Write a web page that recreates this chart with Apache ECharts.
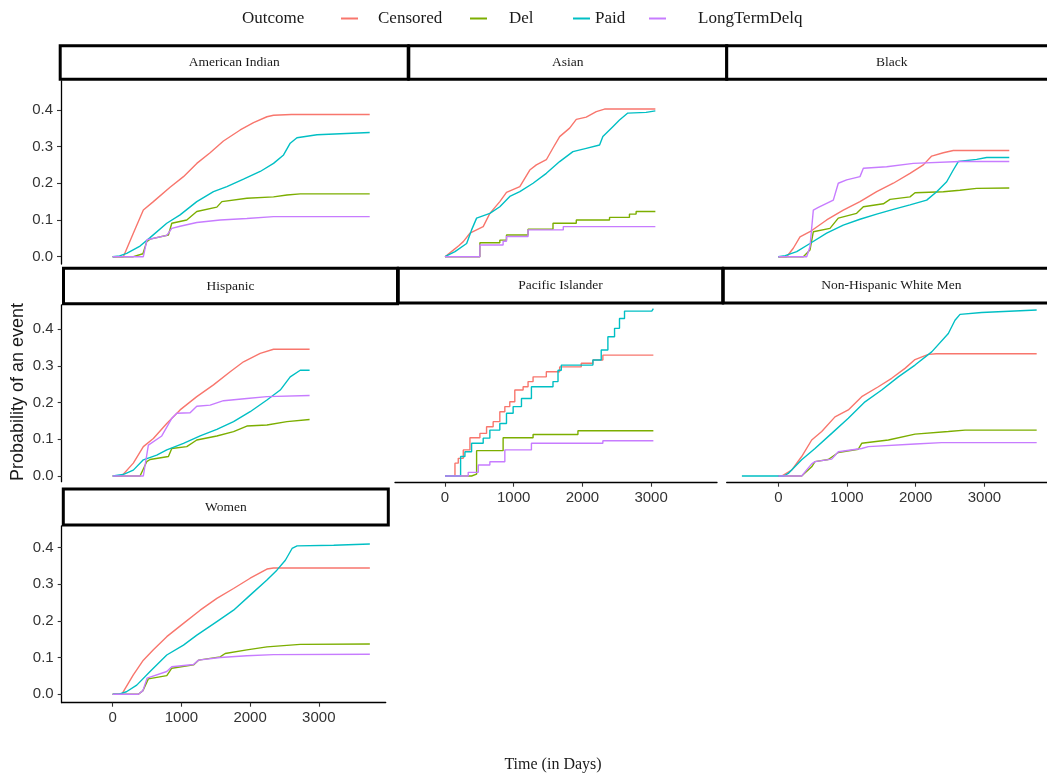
<!DOCTYPE html>
<html>
<head>
<meta charset="utf-8">
<script src="https://cdn.jsdelivr.net/npm/echarts@6/dist/echarts.min.js"></script>
<style>html,body{margin:0;padding:0;background:#fff;}#c{width:1047px;height:777px;}</style>
</head>
<body>
<div id="c"></div>
<script>
// ---------- DATA ----------
const outcomes = ['Censored', 'Del', 'Paid', 'LongTermDelq'];
const panelNames = ['American Indian', 'Asian', 'Black', 'Hispanic', 'Pacific Islander', 'Non-Hispanic White Men', 'Women'];
const xTicks = [0, 1000, 2000, 3000];
const yTicks = [0, 0.1, 0.2, 0.3, 0.4];

// American Indian
const aiCensored = [[0,0],[155,0],[300,0.064],[446,0.127],[592,0.150],[835,0.189],[1030,0.218],[1224,0.254],[1418,0.283],[1612,0.315],[1856,0.345],[2050,0.365],[2245,0.381],[2341,0.385],[2600,0.387],[3741,0.387]];
const aiDel = [[0,0],[300,0],[440,0.008],[495,0.041],[544,0.048],[811,0.059],[860,0.091],[1078,0.100],[1224,0.123],[1516,0.135],[1589,0.150],[1953,0.159],[2341,0.163],[2536,0.168],[2730,0.171],[3741,0.171]];
const aiPaid = [[0,0],[100,0.002],[204,0.009],[398,0.029],[544,0.052],[787,0.091],[981,0.114],[1224,0.150],[1467,0.177],[1662,0.191],[1904,0.211],[2147,0.232],[2341,0.254],[2487,0.277],[2584,0.309],[2682,0.324],[2974,0.332],[3741,0.338]];
const aiLTD = [[0,0],[446,0],[480,0.030],[500,0.046],[787,0.058],[860,0.077],[981,0.083],[1224,0.093],[1564,0.100],[1953,0.104],[2341,0.109],[3741,0.109]];

// Asian
const asianCensored = [[0,0],[24,0],[121,0.018],[200,0.030],[266,0.041],[363,0.064],[556,0.082],[653,0.118],[798,0.150],[895,0.175],[1089,0.191],[1234,0.236],[1330,0.250],[1475,0.264],[1572,0.296],[1669,0.327],[1814,0.350],[1911,0.374],[2056,0.380],[2202,0.395],[2322,0.402],[3062,0.402]];
const asianDel = [[0,0],[508,0.038],[798,0.045],[895,0.059],[1209,0.075],[1572,0.091],[1911,0.100],[2395,0.107],[2685,0.116],[2782,0.123],[3062,0.123]];
const asianPaid = [[0,0],[24,0],[145,0.014],[315,0.036],[387,0.073],[460,0.105],[653,0.118],[798,0.136],[943,0.164],[1089,0.177],[1282,0.200],[1475,0.227],[1669,0.259],[1862,0.286],[2056,0.295],[2250,0.304],[2298,0.327],[2443,0.354],[2540,0.372],[2661,0.391],[2927,0.393],[3062,0.397]];
const asianLTD = [[0,0],[508,0.032],[846,0.042],[895,0.055],[1209,0.073],[1722,0.082],[3062,0.082]];

// Black
const blackCensored = [[0,0],[122,0],[218,0.023],[316,0.054],[461,0.068],[704,0.100],[946,0.127],[1189,0.150],[1432,0.177],[1674,0.200],[1917,0.227],[2111,0.250],[2233,0.274],[2402,0.283],[2547,0.289],[3362,0.289]];
const blackDel = [[0,0],[364,0],[461,0.018],[510,0.068],[752,0.077],[873,0.105],[1140,0.118],[1238,0.136],[1529,0.144],[1626,0.156],[1917,0.163],[1990,0.174],[2402,0.177],[2644,0.181],[2887,0.186],[3362,0.187]];
const blackPaid = [[0,0],[100,0.003],[268,0.014],[461,0.036],[704,0.064],[946,0.086],[1189,0.102],[1432,0.116],[1674,0.129],[1917,0.141],[2160,0.154],[2306,0.177],[2451,0.204],[2547,0.236],[2620,0.259],[2887,0.265],[3033,0.270],[3362,0.270]];
const blackLTD = [[0,0],[413,0],[461,0.027],[510,0.127],[583,0.134],[801,0.154],[873,0.200],[995,0.209],[1189,0.218],[1238,0.241],[1577,0.245],[1965,0.254],[2644,0.259],[3362,0.259]];

// Hispanic
const hispCensored = [[0,0],[131,0],[300,0.035],[446,0.080],[592,0.102],[787,0.143],[981,0.180],[1224,0.216],[1467,0.248],[1710,0.284],[1904,0.311],[2147,0.334],[2341,0.345],[2866,0.345]];
const hispDel = [[0,0],[398,0],[495,0.039],[544,0.045],[811,0.053],[860,0.075],[1078,0.080],[1224,0.098],[1516,0.109],[1759,0.121],[1953,0.136],[2245,0.139],[2536,0.148],[2866,0.154]];
const hispPaid = [[0,0],[150,0.004],[300,0.016],[446,0.044],[641,0.057],[787,0.071],[1030,0.089],[1273,0.109],[1516,0.127],[1759,0.148],[2001,0.175],[2245,0.207],[2439,0.234],[2584,0.270],[2730,0.288],[2866,0.288]];
const hispLTD = [[0,0],[446,0],[519,0.084],[714,0.109],[860,0.157],[933,0.171],[1127,0.172],[1224,0.190],[1418,0.193],[1613,0.205],[1953,0.211],[2245,0.216],[2866,0.219]];

// Pacific Islander
const piCensored = [[0,0],[145,0.035],[193,0.048],[266,0.071],[363,0.104],[508,0.116],[605,0.134],[701,0.148],[798,0.175],[871,0.189],[943,0.202],[1016,0.234],[1137,0.243],[1209,0.257],[1282,0.270],[1475,0.284],[1669,0.297],[1983,0.307],[2153,0.316],[2298,0.329],[3033,0.329]];
const piDel = [[0,0],[387,0.005],[460,0.069],[846,0.104],[1282,0.113],[1935,0.123],[3033,0.123]];
const piPaid = [[0,0],[227,0.053],[290,0.066],[387,0.089],[556,0.103],[653,0.125],[798,0.143],[895,0.171],[992,0.189],[1113,0.211],[1258,0.243],[1572,0.257],[1645,0.288],[1693,0.302],[2153,0.316],[2274,0.343],[2371,0.379],[2468,0.402],[2540,0.429],[2613,0.449],[3010,0.449],[3033,0.456]];
const piLTD = [[0,0],[338,0.010],[484,0.030],[653,0.039],[871,0.071],[1258,0.089],[2298,0.096],[3033,0.096]];

// Non-Hispanic White Men
const nhwmCensored = [[0,0],[49,0],[195,0.016],[340,0.053],[486,0.098],[632,0.121],[825,0.161],[1019,0.180],[1214,0.216],[1456,0.243],[1650,0.266],[1844,0.293],[1990,0.317],[2184,0.331],[2300,0.333],[3761,0.333]];
const nhwmDel = [[0,0],[340,0],[486,0.025],[534,0.039],[728,0.045],[874,0.064],[1165,0.073],[1214,0.089],[1602,0.098],[1990,0.114],[2475,0.121],[2718,0.125],[3761,0.125]];
const nhwmPaid = [[-530,0],[80,0],[145,0.007],[340,0.044],[534,0.075],[777,0.116],[1019,0.157],[1262,0.202],[1505,0.234],[1747,0.270],[1990,0.302],[2233,0.338],[2475,0.388],[2572,0.424],[2645,0.440],[2960,0.445],[3761,0.452]];
const nhwmLTD = [[0,0],[340,0],[486,0.033],[534,0.039],[777,0.046],[874,0.066],[1214,0.075],[1311,0.080],[1990,0.087],[2378,0.091],[3761,0.091]];

// Women
const womenCensored = [[0,0],[131,0],[300,0.053],[446,0.093],[592,0.121],[787,0.157],[1030,0.193],[1273,0.229],[1516,0.261],[1759,0.288],[2001,0.316],[2245,0.341],[2341,0.344],[3743,0.344]];
const womenDel = [[0,0],[374,0],[440,0.010],[519,0.042],[787,0.051],[860,0.071],[1176,0.080],[1249,0.093],[1564,0.102],[1637,0.111],[1953,0.121],[2245,0.129],[2730,0.136],[3743,0.137]];
const womenPaid = [[0,0],[80,0],[200,0.007],[350,0.025],[544,0.062],[787,0.107],[1030,0.134],[1225,0.161],[1516,0.198],[1759,0.229],[2001,0.270],[2245,0.311],[2390,0.338],[2513,0.365],[2611,0.397],[2684,0.404],[3217,0.406],[3743,0.409]];
const womenLTD = [[0,0],[374,0],[440,0.010],[500,0.044],[787,0.062],[860,0.075],[1176,0.081],[1249,0.093],[1564,0.100],[1953,0.105],[2341,0.108],[3743,0.109]];

const panelSeries = [
  [aiCensored, aiDel, aiPaid, aiLTD],
  [asianCensored, asianDel, asianPaid, asianLTD],
  [blackCensored, blackDel, blackPaid, blackLTD],
  [hispCensored, hispDel, hispPaid, hispLTD],
  [piCensored, piDel, piPaid, piLTD],
  [nhwmCensored, nhwmDel, nhwmPaid, nhwmLTD],
  [womenCensored, womenDel, womenPaid, womenLTD]
];

// ---------- STYLE / LAYOUT ----------
const COLORS = ['#F8766D', '#7CAE00', '#00BFC4', '#C77CFF'];
const PX_DAY = 0.0687, PX_UNIT = 367.3;
const layout = [
  {l:61,    r:409,  x0:112.7, t:81,  b:264,   y0:256.7, sx:false, sy:true,  step:[false,false,false,false]},
  {l:409,   r:727,  x0:445,   t:81,  b:264,   y0:256.7, sx:false, sy:false, step:[false,'end',false,'end']},
  {l:727,   r:1047, x0:778.3, t:81,  b:264,   y0:256.7, sx:false, sy:false, step:[false,false,false,false]},
  {l:61.7,  r:398,  x0:112.7, t:305, b:481.7, y0:476,   sx:false, sy:true,  step:[false,false,false,false]},
  {l:395,   r:717,  x0:445,   t:305, b:482.7, y0:476,   sx:true,  sy:false, step:['end','end','end','end']},
  {l:726.7, r:1047, x0:778.3, t:305, b:482.7, y0:476,   sx:true,  sy:false, step:[false,false,false,false]},
  {l:61.7,  r:385.7,x0:112.7, t:526, b:702.7, y0:694.3, sx:true,  sy:true,  step:[false,false,false,false]}
];
const strips = [
  {x:60.2, y:45.8, w:348, h:33.5},
  {x:408.8,y:45.8, w:318, h:33.5},
  {x:726.7,y:45.8, w:330, h:33.5},
  {x:63.5, y:268.3,w:334, h:35.4},
  {x:398.3,y:268.3,w:324.4,h:34.7},
  {x:723.3,y:268.3,w:336, h:34.7},
  {x:63.3, y:489,  w:325, h:36}
];

const grids = [], xAxes = [], yAxes = [], series = [], graphics = [];
const tickLabel = {fontSize:15, color:'#333333', fontFamily:'Liberation Sans, Arial, sans-serif'};
layout.forEach((p, i) => {
  grids.push({left:p.l, top:p.t, width:p.r - p.l, height:p.b - p.t, containLabel:false});
  xAxes.push({
    gridIndex:i, type:'value',
    min:(p.l - p.x0) / PX_DAY, max:(p.r - p.x0) / PX_DAY,
    axisLine:{show:p.sx, onZero:false, lineStyle:{color:'#000', width:1.3}},
    axisTick:{show:p.sx, customValues:xTicks, length:4, lineStyle:{color:'#333', width:1.1}},
    axisLabel:{show:p.sx, customValues:xTicks, margin:8, ...tickLabel, formatter:v => String(v)},
    splitLine:{show:false}
  });
  yAxes.push({
    gridIndex:i, type:'value',
    min:(p.y0 - p.b) / PX_UNIT, max:(p.y0 - p.t) / PX_UNIT,
    axisLine:{show:p.sy, onZero:false, lineStyle:{color:'#000', width:1.3}},
    axisTick:{show:p.sy, customValues:yTicks, length:4, lineStyle:{color:'#333', width:1.1}},
    axisLabel:{show:p.sy, customValues:yTicks, margin:8, ...tickLabel, formatter:v => v.toFixed(1)},
    splitLine:{show:false}
  });
  panelSeries[i].forEach((d, k) => {
    series.push({
      type:'line', name:outcomes[k], xAxisIndex:i, yAxisIndex:i, data:d,
      showSymbol:false, symbol:'none', step:p.step[k], silent:true,
      lineStyle:{color:COLORS[k], width:1.4}, itemStyle:{color:COLORS[k]}, z:2
    });
  });
  const s = strips[i];
  graphics.push({type:'rect', z:100, shape:{x:s.x, y:s.y, width:s.w, height:s.h},
    style:{fill:'#fff', stroke:'#000', lineWidth:3}});
  graphics.push({type:'text', z:101, x:s.x + s.w / 2, y:s.y + s.h / 2,
    style:{text:panelNames[i], align:'center', verticalAlign:'middle',
      font:'13.5px "Liberation Serif", "Times New Roman", serif', fill:'#1a1a1a'}});
});

// titles
graphics.push({type:'text', z:101, x:242, y:19,
  style:{text:'Outcome', align:'left', verticalAlign:'middle', font:'17px "Liberation Serif", serif', fill:'#1a1a1a'}});
graphics.push({type:'text', z:101, x:18, y:392, rotation:Math.PI / 2,
  style:{text:'Probability of an event', align:'center', verticalAlign:'middle', font:'18px "Liberation Sans", Arial, sans-serif', fill:'#1a1a1a'}});
graphics.push({type:'text', z:101, x:553, y:765,
  style:{text:'Time (in Days)', align:'center', verticalAlign:'middle', font:'16px "Liberation Serif", serif', fill:'#1a1a1a'}});

const keyLeft = [341, 470, 573, 649];
const keyPad = [15, 17, 0, 27];
const legends = outcomes.map((name, k) => ({
  data:[name], left:keyLeft[k], top:10, orient:'horizontal',
  icon:'rect', itemWidth:17, itemHeight:2, itemGap:0, selectedMode:false, padding:0,
  textStyle:{fontFamily:'Liberation Serif, serif', fontSize:17, color:'#1a1a1a', padding:[0, 0, 0, keyPad[k]]}
}));

const chart = echarts.init(document.getElementById('c'), null, {renderer:'canvas'});
chart.setOption({
  backgroundColor:'#fff',
  animation:false,
  grid:grids, xAxis:xAxes, yAxis:yAxes, series:series,
  legend:legends,
  graphic:graphics
});
</script>
</body>
</html>
